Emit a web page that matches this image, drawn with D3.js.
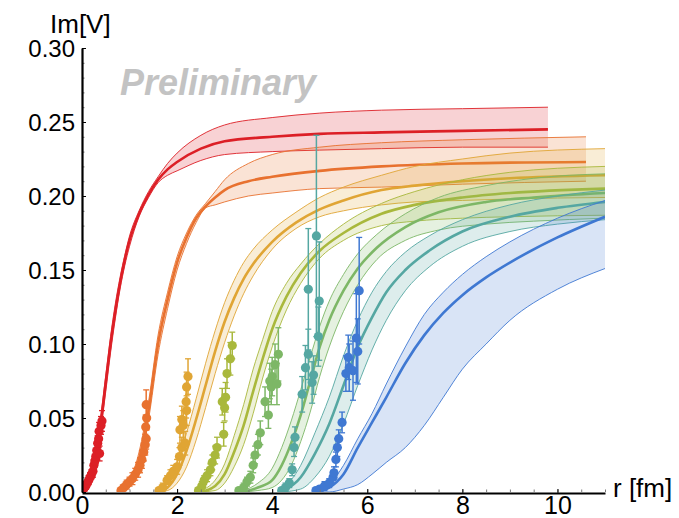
<!DOCTYPE html>
<html>
<head>
<meta charset="utf-8">
<script src="https://cdn.jsdelivr.net/npm/d3@7"></script>
<style>
  body { margin: 0; background: #fff; }
  text { font-family: "Liberation Sans", Arial, sans-serif; }
</style>
</head>
<body>
<script>
// fit bands, rows are [r, lower, central, upper]
const fitRed = [
  [0.0, 0, 0, 0.001], [0.1, 0.001, 0.003, 0.005], [0.2, 0.009, 0.012, 0.015],
  [0.3, 0.023, 0.027, 0.031], [0.4, 0.043, 0.048, 0.053], [0.5, 0.068, 0.074, 0.079],
  [0.6, 0.094, 0.100, 0.105], [0.7, 0.117, 0.122, 0.127], [0.8, 0.137, 0.141, 0.145],
  [0.9, 0.153, 0.157, 0.160], [1.0, 0.166, 0.170, 0.173], [1.2, 0.186, 0.188, 0.190],
  [1.4, 0.199, 0.201, 0.203], [1.6, 0.209, 0.211, 0.213], [1.8, 0.214, 0.218, 0.222],
  [2.0, 0.217, 0.223, 0.229], [2.5, 0.224, 0.232, 0.241], [3.0, 0.228, 0.237, 0.248],
  [4.0, 0.230, 0.240, 0.253], [5.0, 0.231, 0.242, 0.256], [6.3, 0.232, 0.243, 0.258],
  [8.0, 0.233, 0.244, 0.259], [9.8, 0.233, 0.245, 0.260]
];
const fitOrange = [
  [0.8, 0, 0, 0.001], [1.0, 0.003, 0.005, 0.008], [1.2, 0.018, 0.022, 0.027],
  [1.4, 0.049, 0.055, 0.061], [1.6, 0.093, 0.100, 0.106], [1.8, 0.124, 0.130, 0.135],
  [2.0, 0.150, 0.155, 0.159], [2.2, 0.168, 0.172, 0.175], [2.4, 0.182, 0.185, 0.187],
  [2.6, 0.192, 0.193, 0.195], [2.8, 0.194, 0.199, 0.203], [3.0, 0.196, 0.204, 0.211],
  [3.5, 0.200, 0.210, 0.222], [4.0, 0.202, 0.213, 0.228], [5.0, 0.205, 0.217, 0.233],
  [6.3, 0.206, 0.220, 0.236], [8.0, 0.208, 0.222, 0.238], [10.6, 0.210, 0.223, 0.240]
];
const fitGold = [
  [1.6, 0, 0, 0.002], [1.8, 0.001, 0.003, 0.007], [2.0, 0.006, 0.012, 0.020],
  [2.2, 0.017, 0.028, 0.040], [2.4, 0.035, 0.049, 0.063], [2.6, 0.057, 0.072, 0.087],
  [2.8, 0.080, 0.095, 0.109], [3.0, 0.101, 0.115, 0.128], [3.2, 0.119, 0.131, 0.143],
  [3.4, 0.134, 0.144, 0.155], [3.6, 0.146, 0.154, 0.164], [4.0, 0.164, 0.169, 0.177],
  [4.5, 0.178, 0.182, 0.189], [5.0, 0.186, 0.191, 0.199], [5.5, 0.190, 0.197, 0.206],
  [6.3, 0.194, 0.204, 0.214], [7.0, 0.196, 0.207, 0.220], [8.0, 0.197, 0.210, 0.225],
  [9.0, 0.198, 0.212, 0.229], [11, 0.199, 0.214, 0.232]
];
const fitOlive = [
  [2.5, 0, 0, 0.001], [2.8, 0.001, 0.004, 0.008], [3.0, 0.006, 0.012, 0.019],
  [3.2, 0.017, 0.027, 0.038], [3.4, 0.032, 0.045, 0.059], [3.6, 0.053, 0.068, 0.083],
  [3.8, 0.077, 0.090, 0.103], [4.0, 0.098, 0.110, 0.122], [4.3, 0.123, 0.132, 0.141],
  [4.6, 0.141, 0.148, 0.154], [5.0, 0.158, 0.163, 0.168], [5.5, 0.170, 0.175, 0.181],
  [6.3, 0.180, 0.188, 0.195], [7.0, 0.183, 0.194, 0.203], [8.0, 0.185, 0.199, 0.211],
  [9.0, 0.186, 0.202, 0.216], [11, 0.187, 0.205, 0.220]
];
const fitGreen = [
  [3.4, 0, 0, 0.001], [3.7, 0.001, 0.003, 0.006], [4.0, 0.003, 0.008, 0.016],
  [4.2, 0.008, 0.018, 0.030], [4.4, 0.018, 0.033, 0.048], [4.6, 0.034, 0.052, 0.069],
  [4.8, 0.054, 0.075, 0.091], [5.0, 0.078, 0.098, 0.112], [5.2, 0.098, 0.116, 0.129],
  [5.5, 0.122, 0.136, 0.147], [5.8, 0.140, 0.151, 0.161], [6.2, 0.157, 0.165, 0.174],
  [6.8, 0.170, 0.179, 0.188], [7.5, 0.177, 0.189, 0.199], [8.5, 0.181, 0.196, 0.207],
  [9.5, 0.183, 0.199, 0.212], [11, 0.185, 0.202, 0.215]
];
const fitTeal = [
  [4.2, 0, 0, 0.001], [4.6, 0.002, 0.010, 0.018], [4.9, 0.010, 0.026, 0.040],
  [5.2, 0.024, 0.046, 0.064], [5.5, 0.046, 0.072, 0.092], [5.8, 0.072, 0.098, 0.116],
  [6.1, 0.096, 0.118, 0.135], [6.4, 0.116, 0.135, 0.149], [6.8, 0.136, 0.150, 0.162],
  [7.3, 0.152, 0.163, 0.173], [8.0, 0.166, 0.176, 0.184], [9.0, 0.176, 0.186, 0.194],
  [10, 0.181, 0.192, 0.200], [11, 0.184, 0.196, 0.204]
];
const fitBlue = [
  [4.9, 0, 0, 0], [5.2, 0, 0.003, 0.005], [5.5, 0.002, 0.012, 0.018],
  [5.8, 0.005, 0.030, 0.036], [6.1, 0.012, 0.047, 0.053], [6.4, 0.020, 0.064, 0.073],
  [6.8, 0.030, 0.087, 0.098], [7.2, 0.045, 0.106, 0.120], [7.6, 0.064, 0.121, 0.135],
  [8.0, 0.083, 0.133, 0.147], [8.5, 0.100, 0.145, 0.159], [9.0, 0.116, 0.155, 0.169],
  [10, 0.137, 0.172, 0.185], [11, 0.151, 0.186, 0.197]
];

// lattice points, rows are [r, Im V, error]
const ptsRed = [
  [0.02, 0.001, 0.002], [0.05, 0.003, 0.002], [0.08, 0.004, 0.002], [0.11, 0.006, 0.002],
  [0.14, 0.008, 0.003], [0.17, 0.010, 0.003], [0.20, 0.012, 0.003], [0.23, 0.014, 0.004],
  [0.25, 0.018, 0.004], [0.27, 0.021, 0.004], [0.29, 0.024, 0.005], [0.31, 0.028, 0.005],
  [0.33, 0.033, 0.005], [0.35, 0.036, 0.006], [0.37, 0.026, 0.005], [0.36, 0.041, 0.006],
  [0.40, 0.045, 0.006], [0.42, 0.048, 0.007]
];
const ptsOrange = [
  [0.82, 0.001, 0.002], [0.88, 0.003, 0.002], [0.94, 0.005, 0.003], [1.00, 0.007, 0.003],
  [1.06, 0.009, 0.004], [1.12, 0.012, 0.004], [1.18, 0.015, 0.005], [1.22, 0.018, 0.005],
  [1.26, 0.022, 0.006], [1.30, 0.027, 0.006], [1.33, 0.032, 0.007], [1.35, 0.036, 0.007],
  [1.34, 0.044, 0.008], [1.36, 0.050, 0.008], [1.35, 0.059, 0.010]
];
const ptsGold = [
  [1.62, 0.001, 0.002], [1.70, 0.003, 0.003], [1.79, 0.008, 0.003], [1.86, 0.011, 0.004],
  [1.92, 0.014, 0.004], [2.00, 0.017, 0.005], [2.05, 0.024, 0.006], [2.10, 0.030, 0.007],
  [2.17, 0.033, 0.008], [2.06, 0.042, 0.009], [2.10, 0.049, 0.009], [2.13, 0.045, 0.010],
  [2.20, 0.055, 0.010], [2.19, 0.061, 0.011], [2.20, 0.071, 0.010], [2.23, 0.078, 0.012]
];
const ptsOlive = [
  [2.45, 0.001, 0.002], [2.52, 0.004, 0.003], [2.57, 0.008, 0.003], [2.63, 0.011, 0.004],
  [2.70, 0.015, 0.004], [2.74, 0.020, 0.005], [2.80, 0.025, 0.006], [2.84, 0.030, 0.007],
  [2.98, 0.039, 0.008], [3.00, 0.057, 0.009], [2.95, 0.061, 0.009], [3.02, 0.064, 0.010],
  [3.05, 0.080, 0.010], [3.12, 0.090, 0.011], [3.16, 0.099, 0.009]
];
const ptsGreen = [
  [3.30, 0.001, 0.002], [3.40, 0.003, 0.003], [3.47, 0.007, 0.003], [3.54, 0.010, 0.004],
  [3.60, 0.018, 0.005], [3.64, 0.025, 0.006], [3.70, 0.032, 0.007], [3.75, 0.040, 0.008],
  [3.85, 0.061, 0.010], [3.92, 0.052, 0.009], [3.98, 0.071, 0.012], [4.00, 0.078, 0.013],
  [4.06, 0.086, 0.014], [4.13, 0.093, 0.018], [3.95, 0.075, 0.012], [4.10, 0.073, 0.014]
];
const ptsTeal = [
  [4.20, 0.001, 0.002], [4.28, 0.003, 0.003], [4.36, 0.006, 0.003], [4.42, 0.015, 0.004],
  [4.46, 0.030, 0.006], [4.48, 0.037, 0.007], [4.63, 0.066, 0.012], [4.76, 0.093, 0.017],
  [4.70, 0.084, 0.015], [4.87, 0.079, 0.013], [4.84, 0.074, 0.014], [4.76, 0.137, 0.041],
  [4.93, 0.173, 0.068], [4.99, 0.129, 0.040], [4.97, 0.105, 0.020]
];
const ptsBlue = [
  [4.92, 0.001, 0.002], [5.00, 0.002, 0.002], [5.10, 0.004, 0.003], [5.20, 0.006, 0.003],
  [5.28, 0.010, 0.004], [5.30, 0.013, 0.004], [5.34, 0.022, 0.005], [5.37, 0.030, 0.006],
  [5.40, 0.036, 0.006], [5.47, 0.047, 0.007], [5.55, 0.080, 0.012], [5.60, 0.091, 0.015],
  [5.62, 0.084, 0.016], [5.70, 0.082, 0.020], [5.77, 0.104, 0.030], [5.80, 0.095, 0.022],
  [5.83, 0.136, 0.036]
];

const colors = ["#dc1f26", "#e8712f", "#e0a534", "#a9b83c", "#7db766", "#55a7a2", "#3f78d2"];
const fits = [fitRed, fitOrange, fitGold, fitOlive, fitGreen, fitTeal, fitBlue];
const points = [ptsRed, ptsOrange, ptsGold, ptsOlive, ptsGreen, ptsTeal, ptsBlue];

const yTicks = [0, 0.05, 0.10, 0.15, 0.20, 0.25, 0.30];
const xTicks = [0, 2, 4, 6, 8, 10];

var w = 679;
var h = 518;

var svg = d3.select("body")
            .append("svg")
            .attr("width", w)
            .attr("height", h);

var x = d3.scaleLinear().domain([0, 11]).range([82, 605]);
var y = d3.scaleLinear().domain([0, 0.30]).range([492, 48]);

svg.append("defs").append("clipPath")
    .attr("id", "plot")
    .append("rect")
    .attr("x", 82).attr("y", 0)
    .attr("width", 605 - 82).attr("height", 492);

var plot = svg.append("g").attr("clip-path", "url(#plot)");

// bands and fit lines
fits.forEach(function(f, i) {
    var area = d3.area()
        .x(d => x(d[0]))
        .y0(d => y(d[1]))
        .y1(d => y(d[3]))
        .curve(d3.curveMonotoneX);
    plot.append("path")
        .attr("d", area(f))
        .attr("fill", colors[i])
        .attr("fill-opacity", 0.2)
        .attr("stroke", "none");

    [1, 3].forEach(function(k) {
        var edge = d3.line().x(d => x(d[0])).y(d => y(d[k])).curve(d3.curveMonotoneX);
        plot.append("path")
            .attr("d", edge(f))
            .attr("fill", "none")
            .attr("stroke", colors[i])
            .attr("stroke-width", 0.9);
    });

    var mid = d3.line().x(d => x(d[0])).y(d => y(d[2])).curve(d3.curveMonotoneX);
    plot.append("path")
        .attr("d", mid(f))
        .attr("fill", "none")
        .attr("stroke", colors[i])
        .attr("stroke-width", 2.6);
});

// points with error bars
points.forEach(function(p, i) {
    var g = plot.append("g")
        .attr("stroke", colors[i])
        .attr("fill", colors[i]);

    g.selectAll("line.bar")
        .data(p)
        .enter()
        .append("line")
        .attr("class", "bar")
        .attr("x1", d => x(d[0])).attr("x2", d => x(d[0]))
        .attr("y1", d => y(d[1] - d[2])).attr("y2", d => y(d[1] + d[2]))
        .attr("stroke-width", 1.5);

    [-1, 1].forEach(function(s) {
        g.selectAll("line.cap" + (s + 1))
            .data(p)
            .enter()
            .append("line")
            .attr("class", "cap" + (s + 1))
            .attr("x1", d => x(d[0]) - 3).attr("x2", d => x(d[0]) + 3)
            .attr("y1", d => y(d[1] + s * d[2])).attr("y2", d => y(d[1] + s * d[2]))
            .attr("stroke-width", 1.3);
    });

    g.selectAll("circle")
        .data(p)
        .enter()
        .append("circle")
        .attr("cx", d => x(d[0]))
        .attr("cy", d => y(d[1]))
        .attr("r", 4.6)
        .attr("stroke", "none");
});

// axes
var yAxis = d3.axisLeft(y)
    .tickValues(yTicks)
    .tickFormat(d3.format(".2f"))
    .tickSizeInner(-4)
    .tickSizeOuter(0)
    .tickPadding(7);

var yMinor = d3.axisLeft(y)
    .tickValues(d3.range(0, 0.301, 0.01))
    .tickFormat("")
    .tickSizeInner(-2.5)
    .tickSizeOuter(0);

var xAxis = d3.axisBottom(x)
    .tickValues(xTicks)
    .tickSizeInner(-4)
    .tickSizeOuter(0)
    .tickPadding(3);

var xMinor = d3.axisBottom(x)
    .tickValues(d3.range(0, 11.01, 0.5))
    .tickFormat("")
    .tickSizeInner(-2.5)
    .tickSizeOuter(0);

var gy2 = svg.append("g").attr("transform", "translate(82,0)").call(yMinor);
gy2.selectAll("line").attr("stroke", "#777");
gy2.select(".domain").remove();

var gx2 = svg.append("g").attr("transform", "translate(0,492)").call(xMinor);
gx2.selectAll("line").attr("stroke", "#777");
gx2.select(".domain").remove();

var gy = svg.append("g").attr("transform", "translate(82,0)").call(yAxis);
gy.select(".domain").attr("stroke-width", 2.2);
gy.selectAll("text")
    .style("font-size", "24px")
    .attr("fill", "#000")
    .attr("dy", "0.36em");

var gx = svg.append("g").attr("transform", "translate(0,493)").call(xAxis);
gx.select(".domain").attr("stroke-width", 2.2);
gx.selectAll("text")
    .style("font-size", "25px")
    .attr("fill", "#000")
    .attr("dy", "0.71em");

svg.append("text")
    .attr("x", 50)
    .attr("y", 33)
    .style("font-size", "26px")
    .text("Im[V]");

svg.append("text")
    .attr("x", 613)
    .attr("y", 497)
    .style("font-size", "26px")
    .text("r [fm]");

svg.append("text")
    .attr("x", 120)
    .attr("y", 95)
    .style("font-size", "36px")
    .style("font-weight", "bold")
    .style("font-style", "italic")
    .attr("fill", "#c3c3c3")
    .text("Preliminary");
</script>
</body>
</html>
